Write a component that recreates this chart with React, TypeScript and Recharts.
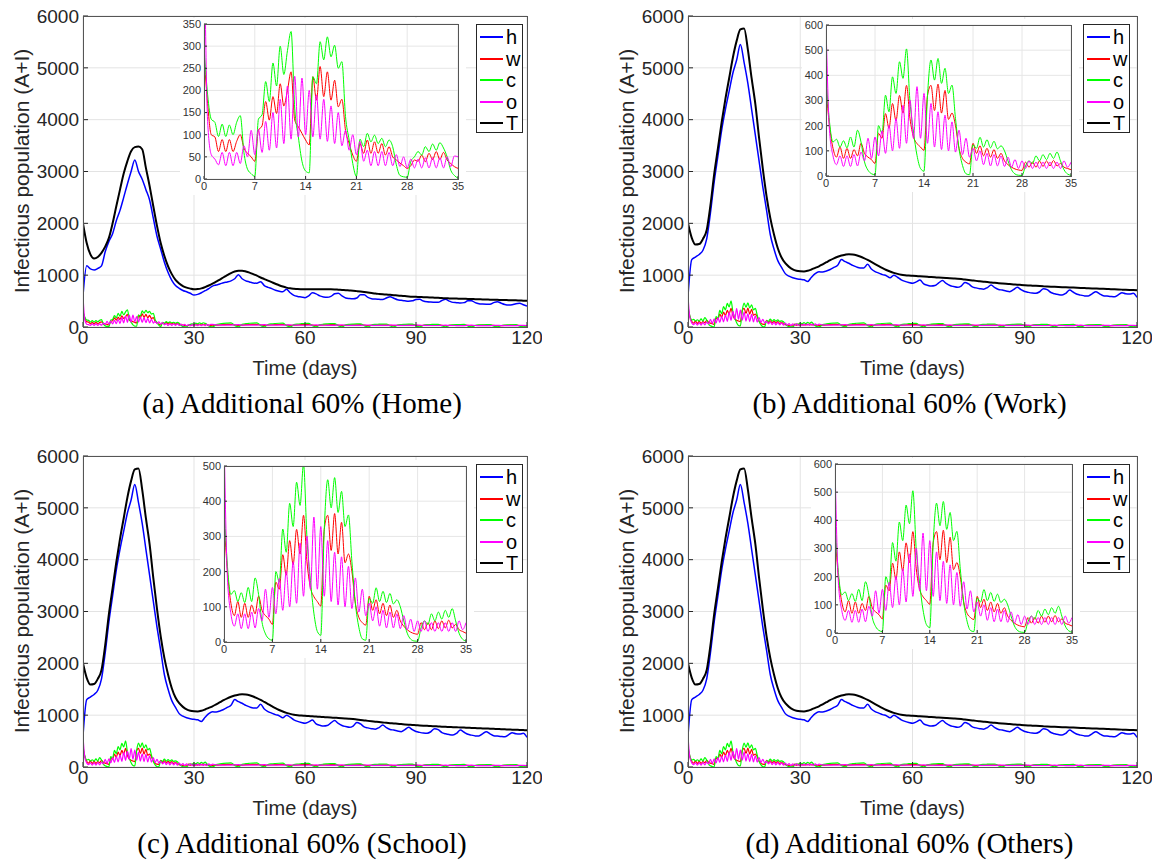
import React from "react";
import { LineChart, Line, XAxis, YAxis, CartesianGrid } from "recharts";

// ---------- data ----------
const mainDays = [
  0, 1, 2, 3, 4, 5, 6, 7, 8, 9, 10, 11, 12, 13, 14, 15, 16, 17, 18, 19,
  20, 21, 22, 23, 24, 25, 26, 27, 28, 29, 30, 31, 32, 33, 34, 35, 36, 37, 38, 39,
  40, 41, 42, 43, 44, 45, 46, 47, 48, 49, 50, 51, 52, 53, 54, 55, 56, 57, 58, 59,
  60, 61, 62, 63, 64, 65, 66, 67, 68, 69, 70, 71, 72, 73, 74, 75, 76, 77, 78, 79,
  80, 81, 82, 83, 84, 85, 86, 87, 88, 89, 90, 91, 92, 93, 94, 95, 96, 97, 98, 99,
  100, 101, 102, 103, 104, 105, 106, 107, 108, 109, 110, 111, 112, 113, 114, 115, 116, 117, 118, 119,
  120,
];

const insetDays = [
  0, 0.5, 1, 1.5, 2, 2.5, 3, 3.5, 4, 4.5, 5, 5.5, 6, 6.5, 7, 7.5, 8, 8.5, 9, 9.5,
  10, 10.5, 11, 11.5, 12, 12.5, 13, 13.5, 14, 14.5, 15, 15.5, 16, 16.5, 17, 17.5, 18, 18.5, 19, 19.5,
  20, 20.5, 21, 21.5, 22, 22.5, 23, 23.5, 24, 24.5, 25, 25.5, 26, 26.5, 27, 27.5, 28, 28.5, 29, 29.5,
  30, 30.5, 31, 31.5, 32, 32.5, 33, 33.5, 34, 34.5, 35,
];

const tailDays = [
  36, 37, 38, 39, 40, 41, 42, 43, 44, 45, 46, 47, 48, 49, 50, 51, 52, 53, 54, 55,
  56, 57, 58, 59, 60, 61, 62, 63, 64, 65, 66, 67, 68, 69, 70, 71, 72, 73, 74, 75,
  76, 77, 78, 79, 80, 81, 82, 83, 84, 85, 86, 87, 88, 89, 90, 91, 92, 93, 94, 95,
  96, 97, 98, 99, 100, 101, 102, 103, 104, 105, 106, 107, 108, 109, 110, 111, 112, 113, 114, 115,
  116, 117, 118, 119, 120,
];

// (a) Home
const homeH = [
  600, 1180, 1120, 1100, 1130, 1180, 1450, 1650, 1800, 2050,
  2250, 2500, 2760, 3000, 3220, 3000, 2850, 2650, 2450, 2100,
  1750, 1500, 1250, 1050, 900, 800, 745, 705, 680, 650,
  617, 630, 660, 700, 740, 790, 810, 830, 855, 870,
  890, 930, 1010, 930, 890, 870, 850, 845, 875, 800,
  765, 740, 710, 690, 680, 727, 660, 610, 590, 580,
  566, 600, 660, 640, 600, 580, 572, 590, 640, 650,
  600, 560, 550, 545, 560, 620, 620, 570, 545, 538,
  534, 530, 560, 585, 555, 525, 515, 505, 498, 505,
  530, 534, 500, 485, 480, 478, 476, 510, 534, 500,
  475, 470, 462, 470, 505, 508, 470, 450, 444, 440,
  438, 470, 489, 460, 435, 424, 430, 450, 457, 430,
  405,
];
const homeT = [
  2000, 1620, 1400, 1320, 1350, 1430, 1550, 1720, 2000, 2330,
  2650, 2960, 3200, 3390, 3470, 3480, 3430, 3070, 2720, 2330,
  1950, 1620, 1370, 1170, 1020, 910, 840, 790, 760, 740,
  728, 732, 745, 770, 800, 835, 875, 915, 960, 1000,
  1040, 1070, 1085, 1085, 1072, 1050, 1020, 990, 955, 925,
  895, 865, 835, 805, 780, 760, 746, 738, 732, 729,
  727, 727, 727, 727, 727, 727, 727, 727, 725, 720,
  715, 710, 705, 700, 692, 684, 675, 665, 655, 645,
  638, 632, 626, 620, 614, 608, 602, 596, 590, 585,
  582, 579, 576, 573, 570, 566, 562, 558, 554, 552,
  550, 548, 546, 544, 542, 540, 537, 534, 532, 530,
  528, 526, 524, 522, 520, 518, 516, 514, 511, 508,
  505,
];
const homeW = [
  280, 170, 100, 95, 62, 89, 62, 89, 62, 85,
  100, 70, 58, 50, 40, 110, 120, 175, 133, 186,
  148, 215, 165, 200, 242, 133, 118, 103, 88, 77,
  231, 178, 254, 186, 242, 178, 223, 163, 180, 110,
  80, 54, 40, 80, 58, 88, 58, 84, 58, 80,
  54, 73, 50, 43, 36, 30, 24, 30, 43, 40,
  54, 39, 58, 44, 62, 44, 60, 43, 35, 28,
  24,
];
const homeC = [
  300, 190, 135, 128, 96, 124, 96, 122, 100, 128,
  143, 60, 22, 12, 6, 135, 145, 220, 175, 262,
  210, 300, 236, 290, 333, 160, 95, 40, 18, 14,
  231, 215, 310, 269, 321, 276, 302, 250, 265, 141,
  88, 35, 6, 90, 73, 103, 84, 99, 80, 92,
  73, 88, 73, 32, 8, 5, 4, 40, 50, 62,
  54, 73, 62, 79, 65, 82, 70, 50, 20, 8,
  2,
];
const homeO = [
  600, 130, 55, 45, 32, 60, 30, 60, 30, 60,
  35, 75, 50, 110, 55, 112, 60, 130, 65, 150,
  70, 180, 80, 210, 90, 232, 95, 228, 100, 200,
  95, 190, 90, 180, 85, 165, 80, 150, 75, 110,
  65, 100, 55, 85, 40, 65, 30, 62, 30, 62,
  30, 60, 30, 55, 28, 50, 25, 45, 25, 45,
  25, 48, 25, 48, 25, 48, 25, 50, 28, 52,
  50,
];

// (b) Work, (c) School, (d) Others read almost identically
const workH = [
  600, 1300, 1350, 1400, 1480, 1700, 2200, 2800, 3300, 3800,
  4200, 4550, 4900, 5150, 5450, 5100, 4700, 4200, 3700, 3200,
  2700, 2250, 1780, 1500, 1280, 1150, 1030, 980, 950, 930,
  920, 910, 880, 960, 1030, 1065, 1060, 1080, 1110, 1150,
  1190, 1300, 1260, 1230, 1190, 1160, 1140, 1140, 1210, 1120,
  1070, 1040, 1010, 990, 950, 1000, 960, 910, 880, 860,
  845, 870, 905, 830, 805, 790, 800, 850, 895, 840,
  800, 780, 765, 790, 860, 830, 775, 755, 740, 730,
  760, 810, 760, 725, 712, 695, 682, 720, 765, 720,
  685, 668, 655, 650, 680, 740, 720, 665, 640, 625,
  617, 650, 712, 670, 632, 615, 600, 598, 640, 682,
  640, 605, 598, 590, 585, 620, 662, 640, 636, 650,
  572,
];
const workT = [
  2000, 1720, 1590, 1600, 1700, 1870, 2350, 2950, 3450, 3950,
  4400, 4800, 5200, 5520, 5740, 5760, 5350, 4800, 4300, 3650,
  3050, 2520, 2100, 1780, 1520, 1340, 1230, 1160, 1110, 1085,
  1075, 1072, 1085, 1110, 1140, 1170, 1210, 1250, 1290, 1325,
  1355, 1380, 1395, 1405, 1400, 1385, 1360, 1330, 1295, 1255,
  1215, 1175, 1135, 1100, 1070, 1045, 1025, 1010, 1000, 993,
  988, 983, 978, 973, 968, 963, 958, 954, 950, 946,
  942, 937, 931, 924, 916, 908, 899, 890, 882, 874,
  866, 859, 852, 846, 840, 834, 828, 822, 817, 812,
  807, 802, 798, 794, 790, 786, 782, 778, 775, 772,
  769, 766, 763, 760, 757, 754, 751, 748, 745, 742,
  739, 736, 733, 730, 727, 724, 721, 718, 715, 712,
  710,
];
const workW = [
  350, 200, 110, 75, 115, 70, 110, 70, 105, 80,
  130, 90, 75, 65, 50, 170, 150, 248, 190, 288,
  220, 320, 250, 360, 228, 155, 129, 115, 102, 320,
  360, 260, 365, 250, 340, 225, 250, 200, 110, 70,
  55, 48, 130, 90, 120, 80, 110, 75, 105, 70,
  90, 60, 45, 35, 28, 24, 22, 55, 35, 55,
  35, 60, 38, 60, 40, 62, 40, 50, 35, 30,
  25,
];
const workC = [
  400, 215, 135, 146, 115, 140, 112, 155, 115, 182,
  135, 56, 23, 9, 5, 200, 170, 321, 255, 394,
  328, 454, 388, 505, 295, 175, 82, 30, 19, 320,
  461, 381, 467, 368, 428, 328, 361, 228, 109, 42,
  9, 5, 124, 110, 154, 115, 144, 112, 138, 108,
  120, 100, 60, 25, 8, 3, 2, 40, 60, 50,
  80, 60, 85, 65, 90, 70, 95, 60, 25, 8,
  3,
];
const workO = [
  600, 180, 80, 45, 80, 38, 80, 38, 85, 40,
  95, 60, 150, 70, 155, 80, 180, 90, 202, 100,
  228, 110, 281, 130, 301, 150, 355, 150, 328, 130,
  288, 115, 255, 105, 242, 100, 215, 95, 182, 85,
  150, 75, 110, 60, 100, 45, 90, 40, 85, 40,
  80, 38, 75, 35, 65, 30, 60, 30, 60, 30,
  55, 30, 55, 30, 55, 30, 55, 30, 60, 35,
  55,
];

// low tail of w, c, o after day 35 (same in all four panels)
const tailW = [
  35, 42, 46, 50, 52, 40, 30, 38, 44, 48, 50, 52, 40, 30, 37, 43, 46, 48, 50, 38,
  29, 36, 41, 44, 46, 48, 37, 28, 35, 40, 43, 45, 46, 36, 27, 34, 39, 41, 43, 44,
  35, 26, 33, 37, 40, 42, 43, 34, 25, 32, 36, 38, 40, 41, 33, 25, 31, 35, 37, 39,
  40, 32, 24, 30, 34, 36, 37, 38, 31, 23, 29, 33, 35, 36, 37, 30, 22, 28, 32, 34,
  35, 36, 29, 22, 26,
];
const tailC = [
  45, 60, 70, 75, 78, 30, 4, 50, 65, 72, 76, 78, 30, 4, 48, 62, 68, 72, 74, 28,
  4, 45, 58, 64, 68, 70, 26, 3, 42, 55, 60, 64, 66, 25, 3, 40, 52, 57, 60, 62,
  24, 3, 38, 50, 54, 57, 58, 22, 3, 36, 47, 51, 54, 55, 21, 3, 34, 45, 48, 51,
  52, 20, 3, 32, 42, 46, 48, 49, 19, 3, 30, 40, 43, 45, 46, 18, 3, 29, 38, 41,
  43, 44, 17, 3, 25,
];
const tailO = [
  40, 38, 38, 37, 37, 42, 45, 38, 37, 36, 36, 36, 40, 44, 37, 36, 35, 35, 35, 39,
  42, 36, 35, 34, 34, 34, 38, 41, 35, 34, 33, 33, 33, 37, 40, 34, 33, 32, 32, 32,
  36, 39, 33, 32, 31, 31, 31, 35, 38, 32, 31, 30, 30, 30, 34, 37, 31, 30, 29, 29,
  29, 33, 36, 30, 29, 28, 28, 28, 32, 35, 29, 28, 27, 27, 27, 31, 34, 28, 27, 26,
  26, 26, 30, 33, 28,
];

const mainTicksX = [0, 30, 60, 90, 120];
const mainTicksY = [0, 1000, 2000, 3000, 4000, 5000, 6000];
const insetTicksX = [0, 7, 14, 21, 28, 35];
const homeInsetTicksY = [0, 50, 100, 150, 200, 250, 300, 350];
const schoolInsetTicksY = [0, 100, 200, 300, 400, 500];
const workInsetTicksY = [0, 100, 200, 300, 400, 500, 600];

const seriesNames = ["h", "w", "c", "o", "T"];
const seriesColors: Record<string, string> = {
  h: "#0000ff",
  w: "#ff0000",
  c: "#00ff00",
  o: "#ff00ff",
  T: "#000000",
};
const captions = [
  "(a) Additional 60% (Home)",
  "(b) Additional 60% (Work)",
  "(c) Additional 60% (School)",
  "(d) Additional 60% (Others)",
];

// ---------- layout ----------
const SANS = '"Liberation Sans", Arial, Helvetica, sans-serif';
const SERIF = '"Liberation Serif", "Times New Roman", serif';
const AXIS = "#262626";

type Box = { left: number; top: number; width: number; height: number };
type Pt = { x: number; y: number };

const toPoints = (xs: number[], ys: number[]): Pt[] => ys.map((y, i) => ({ x: xs[i], y }));

interface Panel {
  caption: string;
  plot: Box;
  inset: Box;
  insetMax: number;
  insetTicksY: number[];
  legend: { left: number; top: number };
  h: number[];
  T: number[];
  w: number[];
  c: number[];
  o: number[];
}

const panels: Panel[] = [
  {
    caption: captions[0],
    plot: { left: 83, top: 16, width: 444, height: 311 },
    inset: { left: 204, top: 24, width: 254, height: 155 },
    insetMax: 350,
    insetTicksY: homeInsetTicksY,
    legend: { left: 476, top: 24 },
    h: homeH, T: homeT, w: homeW, c: homeC, o: homeO,
  },
  {
    caption: captions[1],
    plot: { left: 688, top: 16, width: 449, height: 311 },
    inset: { left: 826, top: 25, width: 245, height: 151 },
    insetMax: 600,
    insetTicksY: workInsetTicksY,
    legend: { left: 1083, top: 24 },
    h: workH, T: workT, w: workW, c: workC, o: workO,
  },
  {
    caption: captions[2],
    plot: { left: 83, top: 456, width: 444, height: 311 },
    inset: { left: 224, top: 466, width: 242, height: 176 },
    insetMax: 500,
    insetTicksY: schoolInsetTicksY,
    legend: { left: 476, top: 464 },
    h: workH, T: workT, w: workW, c: workC, o: workO,
  },
  {
    caption: captions[3],
    plot: { left: 688, top: 456, width: 449, height: 311 },
    inset: { left: 835, top: 464, width: 237, height: 169 },
    insetMax: 600,
    insetTicksY: workInsetTicksY,
    legend: { left: 1083, top: 464 },
    h: workH, T: workT, w: workW, c: workC, o: workO,
  },
];

function Frame({ box, color = "#555" }: { box: Box; color?: string }) {
  return (
    <div
      style={{
        position: "absolute",
        left: box.left,
        top: box.top,
        width: box.width + 1,
        height: box.height + 1,
        border: `1px solid ${color}`,
        boxSizing: "border-box",
        pointerEvents: "none",
      }}
    />
  );
}

function MainChart({ p }: { p: Panel }) {
  const YW = 80;
  const TOP = 10;
  const RIGHT = 15;
  const XH = 40;
  const smallDays = [...insetDays, ...tailDays];
  const series: Record<string, Pt[]> = {
    h: toPoints(mainDays, p.h),
    w: toPoints(smallDays, [...p.w, ...tailW]),
    c: toPoints(smallDays, [...p.c, ...tailC]),
    o: toPoints(smallDays, [...p.o, ...tailO]),
    T: toPoints(mainDays, p.T),
  };
  const widths: Record<string, number> = { h: 1.5, w: 1.2, c: 1.2, o: 1.2, T: 2 };
  return (
    <div style={{ position: "absolute", left: p.plot.left - YW, top: p.plot.top - TOP }}>
      <LineChart
        width={p.plot.width + YW + RIGHT}
        height={p.plot.height + TOP + XH}
        margin={{ top: TOP, right: RIGHT, bottom: 0, left: 0 }}
      >
        <CartesianGrid stroke="#e3e3e3" />
        <XAxis
          dataKey="x"
          type="number"
          domain={[0, 120]}
          ticks={mainTicksX}
          interval={0}
          height={XH}
          allowDataOverflow
          axisLine={false}
          tickLine={{ stroke: AXIS }}
          tickSize={-5}
          tickMargin={9}
          tick={{ fontSize: 19, fill: AXIS, fontFamily: SANS }}
        />
        <YAxis
          type="number"
          domain={[0, 6000]}
          ticks={mainTicksY}
          interval={0}
          width={YW}
          allowDataOverflow
          axisLine={false}
          tickLine={{ stroke: AXIS }}
          tickSize={-5}
          tickMargin={9}
          tick={{ fontSize: 19, fill: AXIS, fontFamily: SANS }}
        />
        {seriesNames.map((k) => (
          <Line
            key={k}
            data={series[k]}
            dataKey="y"
            type="monotone"
            stroke={seriesColors[k]}
            strokeWidth={widths[k]}
            dot={false}
            isAnimationActive={false}
          />
        ))}
      </LineChart>
    </div>
  );
}

function InsetChart({ p }: { p: Panel }) {
  const YW = 24;
  const TOP = 6;
  const RIGHT = 8;
  const XH = 16;
  const series: Record<string, Pt[]> = {
    w: toPoints(insetDays, p.w),
    c: toPoints(insetDays, p.c),
    o: toPoints(insetDays, p.o),
  };
  return (
    <div
      style={{
        position: "absolute",
        left: p.inset.left - YW,
        top: p.inset.top - TOP,
        background: "#fff",
      }}
    >
      <LineChart
        width={p.inset.width + YW + RIGHT}
        height={p.inset.height + TOP + XH}
        margin={{ top: TOP, right: RIGHT, bottom: 0, left: 0 }}
      >
        <CartesianGrid stroke="#e6e6e6" />
        <XAxis
          dataKey="x"
          type="number"
          domain={[0, 35]}
          ticks={insetTicksX}
          interval={0}
          height={XH}
          allowDataOverflow
          axisLine={false}
          tickLine={{ stroke: AXIS }}
          tickSize={-3}
          tickMargin={6}
          tick={{ fontSize: 11, fill: "#333", fontFamily: SANS }}
        />
        <YAxis
          type="number"
          domain={[0, p.insetMax]}
          ticks={p.insetTicksY}
          interval={0}
          width={YW}
          allowDataOverflow
          axisLine={false}
          tickLine={{ stroke: AXIS }}
          tickSize={-3}
          tickMargin={6}
          tick={{ fontSize: 11, fill: "#333", fontFamily: SANS }}
        />
        {["w", "c", "o"].map((k) => (
          <Line
            key={k}
            data={series[k]}
            dataKey="y"
            type="monotone"
            stroke={seriesColors[k]}
            strokeWidth={1}
            dot={false}
            isAnimationActive={false}
          />
        ))}
      </LineChart>
    </div>
  );
}

function LegendBox({ left, top }: { left: number; top: number }) {
  return (
    <div
      style={{
        position: "absolute",
        left,
        top,
        width: 47,
        height: 109,
        background: "#fff",
        border: `1px solid ${AXIS}`,
        boxSizing: "border-box",
      }}
    >
      {seriesNames.map((k, i) => (
        <div
          key={k}
          style={{
            position: "absolute",
            left: 0,
            top: 12 + i * 21.5 - 11,
            height: 22,
            width: 46,
            display: "flex",
            alignItems: "center",
          }}
        >
          <div style={{ marginLeft: 3, width: 23, height: 2, background: seriesColors[k] }} />
          <span style={{ marginLeft: 3, fontFamily: SANS, fontSize: 20, color: "#000", lineHeight: "22px" }}>
            {k}
          </span>
        </div>
      ))}
    </div>
  );
}

function PanelView({ p }: { p: Panel }) {
  const cx = p.plot.left + p.plot.width / 2;
  const cy = p.plot.top + p.plot.height / 2;
  return (
    <>
      <MainChart p={p} />
      <Frame box={p.plot} />
      <InsetChart p={p} />
      <Frame box={p.inset} />
      <LegendBox left={p.legend.left} top={p.legend.top} />
      <div
        style={{
          position: "absolute",
          left: p.plot.left - 61,
          top: cy - 1,
          transform: "translate(-50%, -50%) rotate(-90deg)",
          whiteSpace: "nowrap",
          fontFamily: SANS,
          fontSize: 21,
          color: AXIS,
        }}
      >
        Infectious population (A+I)
      </div>
      <div
        style={{
          position: "absolute",
          left: cx,
          top: p.plot.top + p.plot.height + 41,
          transform: "translate(-50%, -50%)",
          whiteSpace: "nowrap",
          fontFamily: SANS,
          fontSize: 20,
          color: AXIS,
        }}
      >
        Time (days)
      </div>
      <div
        style={{
          position: "absolute",
          left: cx - 3,
          top: p.plot.top + p.plot.height + 76,
          transform: "translate(-50%, -50%)",
          whiteSpace: "nowrap",
          fontFamily: SERIF,
          fontSize: 29,
          lineHeight: "29px",
          color: "#000",
        }}
      >
        {p.caption}
      </div>
    </>
  );
}

export default function App() {
  return (
    <div
      style={{
        position: "absolute",
        left: 0,
        top: 0,
        width: 1157,
        height: 860,
        background: "#fff",
        overflow: "hidden",
      }}
    >
      {panels.map((p) => (
        <PanelView key={p.caption} p={p} />
      ))}
    </div>
  );
}
